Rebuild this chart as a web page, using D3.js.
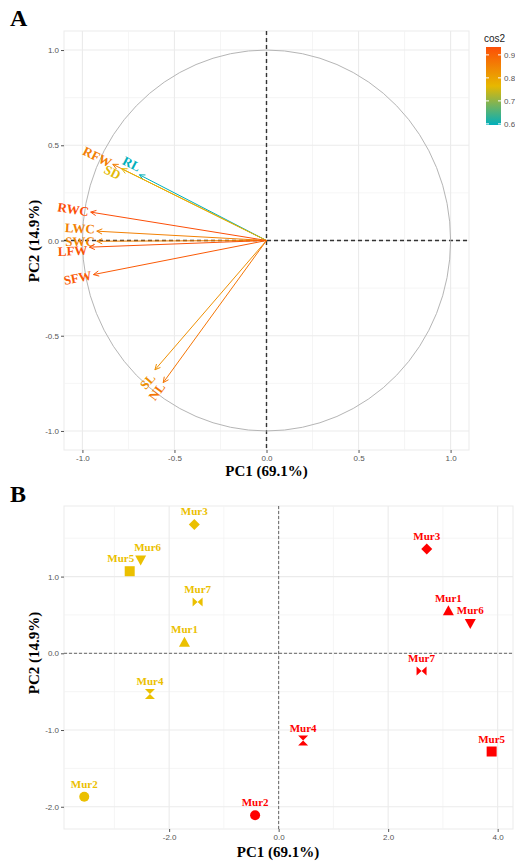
<!DOCTYPE html>
<html>
<head>
<meta charset="utf-8">
<title>PCA variables and individuals</title>
<script src="https://cdn.jsdelivr.net/npm/d3@7"></script>
<style>
body { margin: 0; background: #fff; }
text { font-family: "Liberation Sans", Arial, sans-serif; }
.serif { font-family: "Liberation Serif", "Times New Roman", serif; font-weight: bold; }
</style>
</head>
<body>
<svg width="515" height="862"></svg>
<script>
// panel A - variable loadings on PC1 / PC2
var varNames = ["RFW", "RL", "SD", "RWC", "LWC", "SWC", "LFW", "SFW", "SL", "NL"];
var varPC1 = [-0.835, -0.69, -0.787, -0.955, -0.922, -0.922, -0.962, -0.94, -0.606, -0.561];
var varPC2 = [0.40, 0.345, 0.377, 0.149, 0.049, -0.004, -0.035, -0.179, -0.679, -0.746];
var cosTicks = [0.6, 0.7, 0.8, 0.9];
var gradCols = ["#00AFBB", "#E7B800", "#FC4E07"];
var ticksA = [-1, -0.5, 0, 0.5, 1];
var minorA = [-0.75, -0.25, 0.25, 0.75];

// panel B - individuals, two groups
var samples = ["Mur1", "Mur2", "Mur3", "Mur4", "Mur5", "Mur6", "Mur7"];
var yellowPC1 = [-1.72, -3.55, -1.54, -2.35, -2.72, -2.52, -1.48];
var yellowPC2 = [0.143, -1.87, 1.68, -0.53, 1.07, 1.215, 0.668];
var redPC1 = [3.10, -0.43, 2.705, 0.447, 3.89, 3.50, 2.61];
var redPC2 = [0.555, -2.11, 1.358, -1.138, -1.28, 0.39, -0.23];
var groupCols = ["#EBC000", "#FF0000"];
var ticksBx = [-2, 0, 2, 4];
var minorBx = [-3, -1, 1, 3];
var ticksBy = [-2, -1, 0, 1];
var minorBy = [-1.5, -0.5, 0.5, 1.5];

var svg = d3.select("svg");
var fmt = function (d) { return d.toFixed(1); };

function panel(g, x, y, xt, xm, yt, ym, dashCol, dashW, dash) {
  var x0 = x.range()[0], x1 = x.range()[1], y0 = y.range()[1], y1 = y.range()[0];
  g.append("rect").attr("x", x0).attr("y", y0).attr("width", x1 - x0).attr("height", y1 - y0)
    .attr("fill", "#fff").attr("stroke", "#ebebeb");
  g.selectAll(".mx").data(xm).enter().append("line")
    .attr("x1", x).attr("x2", x).attr("y1", y0).attr("y2", y1)
    .attr("stroke", "#f3f3f3").attr("stroke-width", 0.8);
  g.selectAll(".my").data(ym).enter().append("line")
    .attr("y1", y).attr("y2", y).attr("x1", x0).attr("x2", x1)
    .attr("stroke", "#f3f3f3").attr("stroke-width", 0.8);
  g.selectAll(".gx").data(xt).enter().append("line")
    .attr("x1", x).attr("x2", x).attr("y1", y0).attr("y2", y1)
    .attr("stroke", "#ebebeb").attr("stroke-width", 1.1);
  g.selectAll(".gy").data(yt).enter().append("line")
    .attr("y1", y).attr("y2", y).attr("x1", x0).attr("x2", x1)
    .attr("stroke", "#ebebeb").attr("stroke-width", 1.1);

  var ax = g.append("g").attr("transform", "translate(0," + y1 + ")")
    .call(d3.axisBottom(x).tickValues(xt).tickFormat(fmt).tickSize(3).tickPadding(2));
  var ay = g.append("g").attr("transform", "translate(" + x0 + ",0)")
    .call(d3.axisLeft(y).tickValues(yt).tickFormat(fmt).tickSize(3).tickPadding(2));
  [ax, ay].forEach(function (a) {
    a.select(".domain").remove();
    a.selectAll("line").attr("stroke", "#555");
    a.selectAll("text").attr("fill", "#555").style("font-size", "8px")
      .style("font-family", "'Liberation Sans', Arial, sans-serif");
  });

  g.append("line").attr("x1", x(0)).attr("x2", x(0)).attr("y1", y0).attr("y2", y1)
    .attr("stroke", dashCol).attr("stroke-width", dashW).attr("stroke-dasharray", dash);
  g.append("line").attr("x1", x0).attr("x2", x1).attr("y1", y(0)).attr("y2", y(0))
    .attr("stroke", dashCol).attr("stroke-width", dashW).attr("stroke-dasharray", dash);
}

// ---------- panel A ----------
var xA = d3.scaleLinear().domain([-1.1, 1.1]).range([64, 469]);
var yA = d3.scaleLinear().domain([-1.1, 1.1]).range([450, 31]);
var gA = svg.append("g");
panel(gA, xA, yA, ticksA, minorA, ticksA, minorA, "#333", 1.4, "4,3");

gA.append("ellipse").attr("cx", xA(0)).attr("cy", yA(0))
  .attr("rx", xA(1) - xA(0)).attr("ry", yA(0) - yA(1))
  .attr("fill", "none").attr("stroke", "#b5b5b5").attr("stroke-width", 1);

var vars = varNames.map(function (n, i) {
  return { name: n, pc1: varPC1[i], pc2: varPC2[i], cos2: varPC1[i] * varPC1[i] + varPC2[i] * varPC2[i] };
});
var cmin = d3.min(vars, function (d) { return d.cos2; });
var cmax = d3.max(vars, function (d) { return d.cos2; });
var col = d3.scaleLinear().domain([cmin, (cmin + cmax) / 2, cmax]).range(gradCols);

// small hand nudges so overlapping labels read like the original
var nudgeA = { SD: [0, 8], RL: [2, -6], LWC: [0, -2], LFW: [0, 3], SL: [-1, 4] };

var ox = xA(0), oy = yA(0);
vars.forEach(function (d) {
  var tx = xA(d.pc1), ty = yA(d.pc2);
  var dx = tx - ox, dy = ty - oy, len = Math.hypot(dx, dy), ux = dx / len, uy = dy / len;
  var c = col(d.cos2);
  gA.append("line").attr("x1", ox).attr("y1", oy).attr("x2", tx).attr("y2", ty)
    .attr("stroke", c).attr("stroke-width", 1);
  var a = Math.atan2(dy, dx), h = 6, sp = 0.45;
  gA.append("path")
    .attr("d", "M" + (tx - h * Math.cos(a - sp)) + "," + (ty - h * Math.sin(a - sp)) +
      "L" + tx + "," + ty + "L" + (tx - h * Math.cos(a + sp)) + "," + (ty - h * Math.sin(a + sp)))
    .attr("fill", "none").attr("stroke", c).attr("stroke-width", 1);
  var deg = a * 180 / Math.PI;
  if (deg > 90) deg -= 180;
  if (deg < -90) deg += 180;
  var nd = nudgeA[d.name] || [0, 0];
  var lx = tx + ux * 2 + nd[0], ly = ty + uy * 2 + nd[1];
  gA.append("text").attr("class", "serif")
    .attr("transform", "translate(" + lx + "," + ly + ") rotate(" + deg + ")")
    .attr("text-anchor", dx < 0 ? "end" : "start").attr("dy", "0.35em")
    .attr("fill", c).style("font-size", "13px").text(d.name);
});

// legend
var defs = svg.append("defs");
var grad = defs.append("linearGradient").attr("id", "cosgrad")
  .attr("x1", 0).attr("y1", 1).attr("x2", 0).attr("y2", 0);
d3.range(0, 1.01, 0.1).forEach(function (t) {
  grad.append("stop").attr("offset", t).attr("stop-color", col(cmin + t * (cmax - cmin)));
});
var yL = d3.scaleLinear().domain([cmin, cmax]).range([125, 47]);
var gL = svg.append("g");
gL.append("text").attr("x", 484).attr("y", 42).attr("fill", "#222")
  .style("font-size", "10px").text("cos2");
gL.append("rect").attr("x", 486).attr("y", yL(cmax)).attr("width", 15)
  .attr("height", yL(cmin) - yL(cmax)).attr("fill", "url(#cosgrad)");
gL.selectAll(".lt").data(cosTicks).enter().append("text")
  .attr("x", 504).attr("y", yL).attr("dy", "0.35em")
  .attr("fill", "#555").style("font-size", "8px").text(fmt);
gL.selectAll(".tk").data(cosTicks).enter().append("line")
  .attr("x1", 486).attr("x2", 489).attr("y1", yL).attr("y2", yL).attr("stroke", "#fff");
gL.selectAll(".tk2").data(cosTicks).enter().append("line")
  .attr("x1", 498).attr("x2", 501).attr("y1", yL).attr("y2", yL).attr("stroke", "#fff");

svg.append("text").attr("class", "serif").attr("x", 10).attr("y", 26)
  .style("font-size", "24px").text("A");
svg.append("text").attr("class", "serif").attr("x", 266.5).attr("y", 476)
  .attr("text-anchor", "middle").style("font-size", "15px").text("PC1 (69.1%)");
svg.append("text").attr("class", "serif")
  .attr("transform", "translate(39,241) rotate(-90)")
  .attr("text-anchor", "middle").style("font-size", "15px").text("PC2 (14.9%)");

// ---------- panel B ----------
var xB = d3.scaleLinear().domain([-3.92, 4.28]).range([64, 513]);
var yB = d3.scaleLinear().domain([-2.29, 1.92]).range([829, 506]);
var gB = svg.append("g");
panel(gB, xB, yB, ticksBx, minorBx, ticksBy, minorBy, "#666", 1, "3,2");

var shapes = {
  Mur1: "M0,-5.5L5.5,4.5L-5.5,4.5Z",
  Mur2: "M-5,0A5,5 0 1,0 5,0A5,5 0 1,0 -5,0Z",
  Mur3: "M0,-5.5L5.5,0L0,5.5L-5.5,0Z",
  Mur4: "M-5,-5L5,-5L0,0ZM-5,5L5,5L0,0Z",
  Mur5: "M-5,-5L5,-5L5,5L-5,5Z",
  Mur6: "M-5.5,-4.5L5.5,-4.5L0,5.5Z",
  Mur7: "M-5,-4.5L0,0L-5,4.5ZM5,-4.5L0,0L5,4.5Z"
};
var nudgeB = { "0Mur5": -9, "0Mur6": 7 };

var pts = [];
samples.forEach(function (s, i) {
  pts.push({ name: s, g: 0, x: yellowPC1[i], y: yellowPC2[i] });
  pts.push({ name: s, g: 1, x: redPC1[i], y: redPC2[i] });
});

gB.selectAll(".pt").data(pts).enter().append("path")
  .attr("transform", function (d) { return "translate(" + xB(d.x) + "," + yB(d.y) + ")"; })
  .attr("d", function (d) { return shapes[d.name]; })
  .attr("fill", function (d) { return groupCols[d.g]; });

gB.selectAll(".lb").data(pts).enter().append("text").attr("class", "serif")
  .attr("x", function (d) { return xB(d.x) + (nudgeB[d.g + d.name] || 0); })
  .attr("y", function (d) { return yB(d.y) - 9; })
  .attr("text-anchor", "middle").style("font-size", "11px")
  .attr("fill", function (d) { return groupCols[d.g]; })
  .text(function (d) { return d.name; });

svg.append("text").attr("class", "serif").attr("x", 10).attr("y", 502)
  .style("font-size", "24px").text("B");
svg.append("text").attr("class", "serif").attr("x", 278).attr("y", 857)
  .attr("text-anchor", "middle").style("font-size", "15px").text("PC1 (69.1%)");
svg.append("text").attr("class", "serif")
  .attr("transform", "translate(39,653) rotate(-90)")
  .attr("text-anchor", "middle").style("font-size", "15px").text("PC2 (14.9%)");
</script>
</body>
</html>
